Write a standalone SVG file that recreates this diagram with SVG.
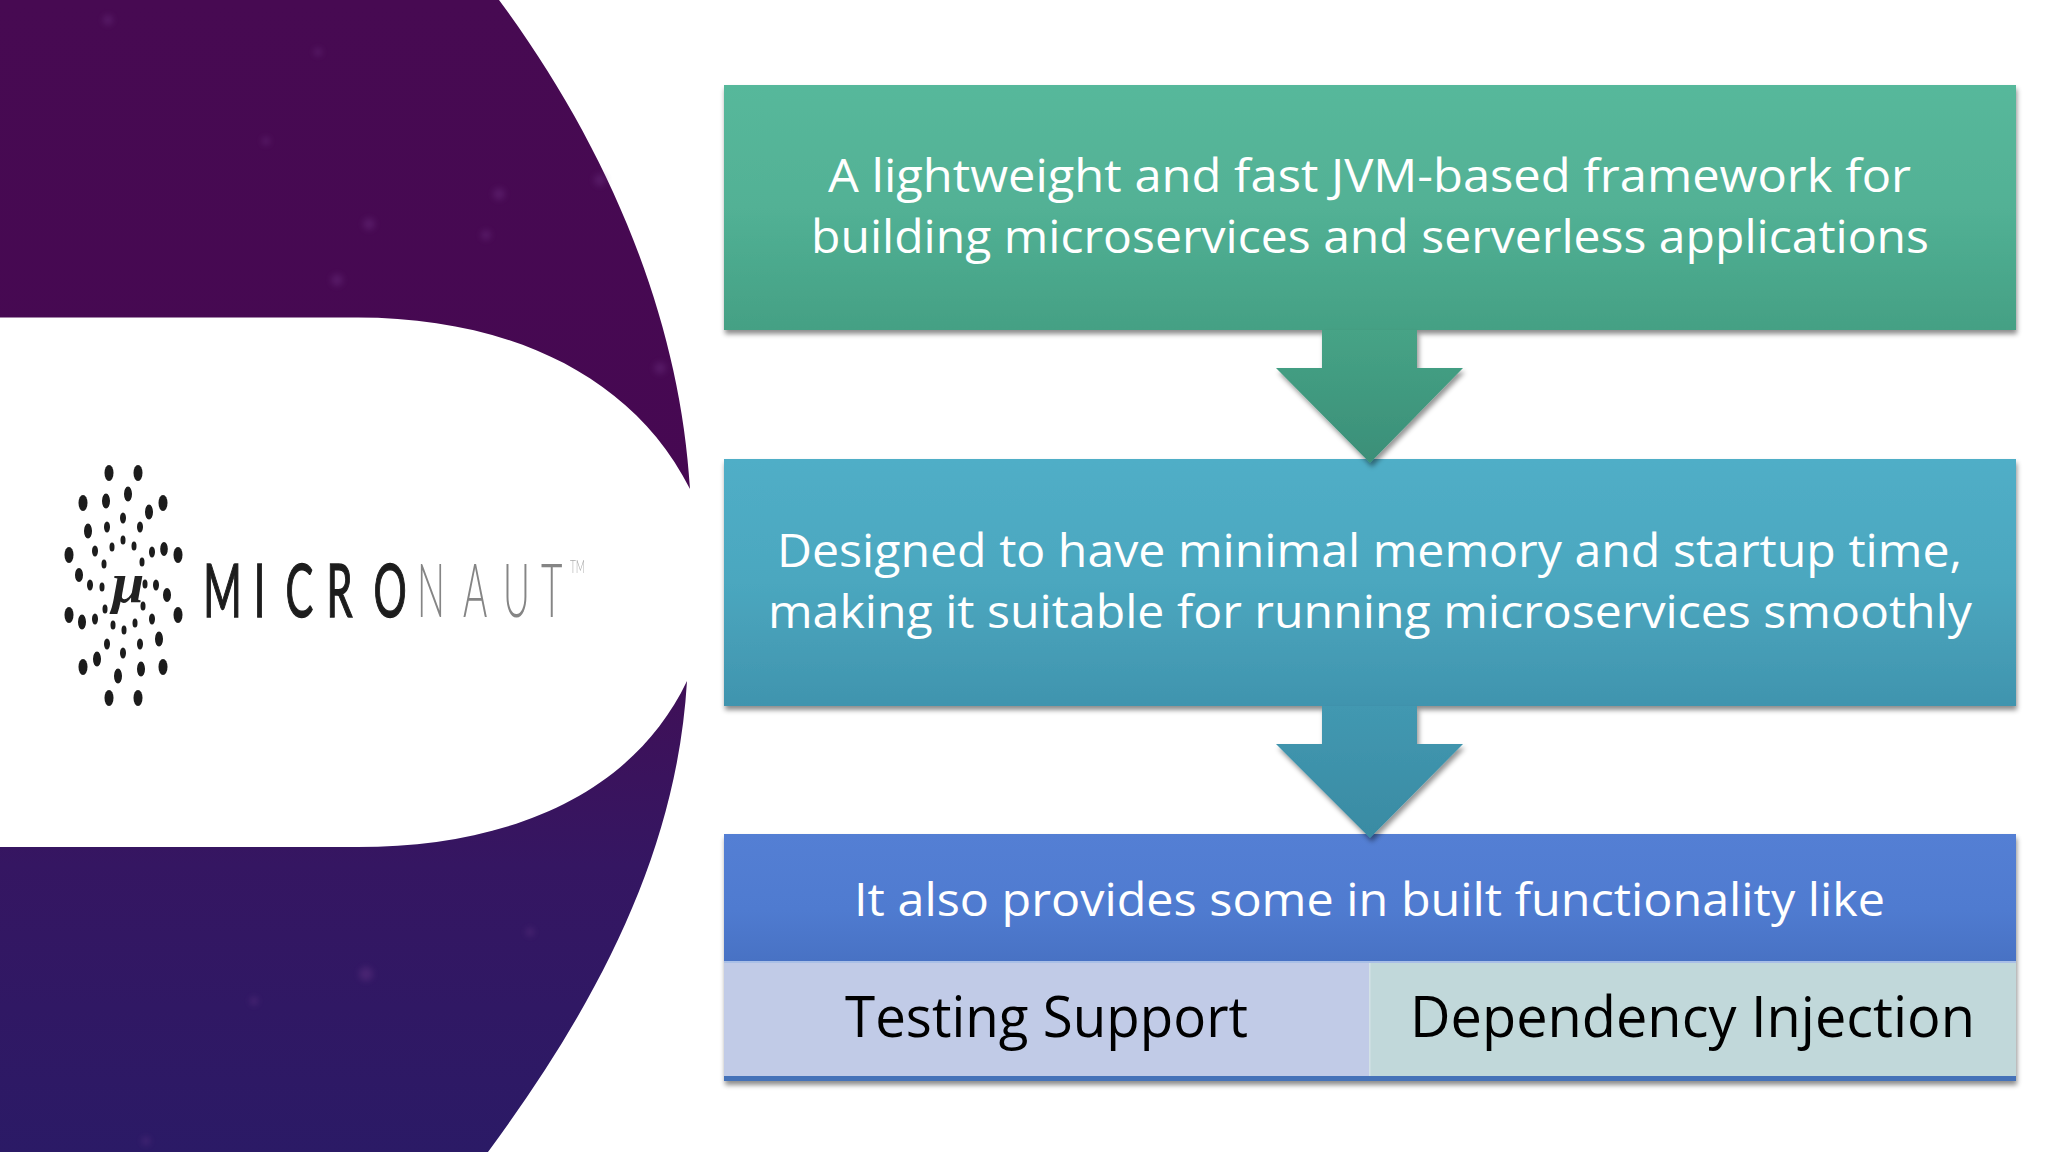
<svg xmlns="http://www.w3.org/2000/svg" width="2048" height="1152" viewBox="0 0 2048 1152">
<defs>
<linearGradient id="bg" gradientUnits="userSpaceOnUse" x1="0" y1="0" x2="0" y2="1152"><stop offset="0" stop-color="#470a52"/><stop offset=".45" stop-color="#460852"/><stop offset=".6" stop-color="#3f1058"/><stop offset=".75" stop-color="#351662"/><stop offset="1" stop-color="#2b1a66"/></linearGradient>
<linearGradient id="g1" x1="0" y1="0" x2="0" y2="1"><stop offset="0" stop-color="#57b89b"/><stop offset=".5" stop-color="#52b195"/><stop offset="1" stop-color="#44a084"/></linearGradient>
<linearGradient id="g2" x1="0" y1="0" x2="0" y2="1"><stop offset="0" stop-color="#50aec7"/><stop offset=".5" stop-color="#4ba7bf"/><stop offset="1" stop-color="#4094ae"/></linearGradient>
<linearGradient id="g3" x1="0" y1="0" x2="0" y2="1"><stop offset="0" stop-color="#547fd4"/><stop offset=".6" stop-color="#4f7bd0"/><stop offset="1" stop-color="#4872c4"/></linearGradient>
<linearGradient id="a1" x1="0" y1="0" x2="0" y2="1"><stop offset="0" stop-color="#46a386"/><stop offset="1" stop-color="#3b8f78"/></linearGradient>
<linearGradient id="a2" x1="0" y1="0" x2="0" y2="1"><stop offset="0" stop-color="#4298b1"/><stop offset="1" stop-color="#398ba3"/></linearGradient>
<filter id="sh" x="-5%" y="-10%" width="110%" height="125%"><feDropShadow dx="1" dy="4" stdDeviation="2.500" flood-color="#000" flood-opacity=".45"/></filter>
<filter id="ash" x="-15%" y="-10%" width="130%" height="125%"><feDropShadow dx="2" dy="4" stdDeviation="2.500" flood-color="#000" flood-opacity=".42"/></filter>
<filter id="soft" x="-5%" y="-5%" width="110%" height="110%"><feGaussianBlur stdDeviation=".55"/></filter>
<filter id="star" x="-200%" y="-200%" width="500%" height="500%"><feGaussianBlur stdDeviation="3"/></filter>
</defs>
<style>
.t{font-family:"Open Sans","Liberation Sans",sans-serif;fill:#fff;font-size:46px}
.d{font-family:"Open Sans","Liberation Sans",sans-serif;fill:#000;font-size:56px}
.l{fill:#1a1a1a}
.s{fill:#7a3f92;opacity:.32;filter:url(#star)}
.logo{font-family:Lato,"Liberation Sans",sans-serif;font-size:74px}
</style>
<rect width="2048" height="1152" fill="#fff"/>
<g id="background">
<path fill="url(#bg)" d="M0,0H499C610,150 680,320 690,489C630,370 500,317.500 358,317.500H0Z"/>
<path fill="url(#bg)" d="M0,847H358C500,847 630,800 687,681C677,850 600,1000 488,1152H0Z"/>
<g>
<circle class="s" cx="108" cy="20" r="5"/><circle class="s" cx="369" cy="224" r="6"/><circle class="s" cx="266" cy="141" r="4"/><circle class="s" cx="318" cy="52" r="4"/><circle class="s" cx="499" cy="194" r="6"/><circle class="s" cx="337" cy="280" r="6"/><circle class="s" cx="486" cy="235" r="5"/><circle class="s" cx="660" cy="368" r="6"/><circle class="s" cx="600" cy="180" r="6"/>
<circle class="s" cx="366" cy="974" r="7"/><circle class="s" cx="254" cy="1001" r="4"/><circle class="s" cx="146" cy="1141" r="4"/><circle class="s" cx="530" cy="932" r="4"/>
</g>
</g>
<g id="logo" filter="url(#soft)">
<g class="l">
<ellipse cx="109" cy="473" rx="4.500" ry="8"/><ellipse cx="138" cy="473" rx="4.500" ry="8"/><ellipse cx="83" cy="503" rx="4.500" ry="8"/><ellipse cx="106" cy="501" rx="4" ry="7.500"/><ellipse cx="128" cy="494" rx="4" ry="7.500"/><ellipse cx="149" cy="512" rx="4" ry="7.500"/><ellipse cx="163" cy="503" rx="4.500" ry="8"/><ellipse cx="88" cy="531" rx="4" ry="7.500"/><ellipse cx="107" cy="527" rx="3" ry="5.500"/><ellipse cx="123" cy="518" rx="3" ry="5.500"/><ellipse cx="140" cy="527" rx="3" ry="5.500"/>
<ellipse cx="69" cy="555" rx="4.500" ry="8"/><ellipse cx="95" cy="551" rx="3" ry="5.500"/><ellipse cx="112" cy="547" rx="2.500" ry="4.500"/><ellipse cx="123" cy="540" rx="2.500" ry="4.500"/><ellipse cx="134" cy="546" rx="2.500" ry="4.500"/><ellipse cx="152" cy="552" rx="3" ry="5.500"/><ellipse cx="164" cy="549" rx="3.800" ry="7"/><ellipse cx="178" cy="555" rx="4.500" ry="8"/><ellipse cx="104" cy="564" rx="2.500" ry="4.500"/><ellipse cx="142" cy="562" rx="2.500" ry="4.500"/><ellipse cx="79" cy="575" rx="4" ry="7"/><ellipse cx="90" cy="585" rx="3" ry="5.500"/><ellipse cx="102" cy="587" rx="2.500" ry="4.500"/><ellipse cx="145" cy="584" rx="2.500" ry="4.500"/><ellipse cx="156" cy="585" rx="3" ry="5.500"/><ellipse cx="167" cy="595" rx="4" ry="7"/>
<ellipse cx="69" cy="615" rx="4.500" ry="8"/><ellipse cx="82" cy="622" rx="4" ry="7.500"/><ellipse cx="95" cy="619" rx="3" ry="5.500"/><ellipse cx="105" cy="609" rx="2.500" ry="4.500"/><ellipse cx="143" cy="606" rx="2.500" ry="4.500"/><ellipse cx="152" cy="619" rx="3" ry="5.500"/><ellipse cx="178" cy="615" rx="4.500" ry="8"/><ellipse cx="113" cy="625" rx="2.500" ry="4.500"/><ellipse cx="124" cy="630" rx="2.500" ry="4.500"/><ellipse cx="135" cy="623" rx="2.500" ry="4.500"/>
<ellipse cx="107" cy="644" rx="3" ry="5.500"/><ellipse cx="123" cy="653" rx="3" ry="5.500"/><ellipse cx="140" cy="644" rx="3" ry="5.500"/><ellipse cx="159" cy="639" rx="4" ry="7.500"/><ellipse cx="97" cy="659" rx="4" ry="7.500"/><ellipse cx="83" cy="667" rx="4.500" ry="8"/><ellipse cx="118" cy="676" rx="4" ry="7.500"/><ellipse cx="141" cy="669" rx="4" ry="7.500"/><ellipse cx="163" cy="667" rx="4.500" ry="8"/><ellipse cx="109" cy="698" rx="4.500" ry="8"/><ellipse cx="138" cy="698" rx="4.500" ry="8"/>
</g>
<text x="112" y="602" font-family="'Liberation Serif',serif" font-style="italic" font-size="58" font-weight="700" fill="#222">μ</text>
<g class="logo">
<text transform="translate(0,617) scale(.56,1)" fill="#1e1e1e" stroke="#1e1e1e" stroke-width="1.500" x="363 453 510 583 667">MICRO</text>
<text transform="translate(0,617) scale(.5,1)" fill="#858585" font-weight="300" x="834 926 1006 1082">NAUT</text>
</g>
<text x="570" y="573" font-family="Lato,'Liberation Sans',sans-serif" font-size="17" font-weight="300" fill="#aaa" textLength="15" lengthAdjust="spacingAndGlyphs">TM</text>
</g>
<g id="node-1">
<rect x="724" y="85" width="1292" height="245" fill="url(#g1)" filter="url(#sh)"/>
<text class="t" x="828" y="192" textLength="1083" lengthAdjust="spacingAndGlyphs">A lightweight and fast JVM-based framework for</text>
<text class="t" x="811" y="253" textLength="1118" lengthAdjust="spacingAndGlyphs">building microservices and serverless applications</text>
</g>
<g id="node-2">
<rect x="724" y="459" width="1292" height="247" fill="url(#g2)" filter="url(#sh)"/>
<text class="t" x="777" y="567" textLength="1185" lengthAdjust="spacingAndGlyphs">Designed to have minimal memory and startup time,</text>
<text class="t" x="768" y="628" textLength="1204" lengthAdjust="spacingAndGlyphs">making it suitable for running microservices smoothly</text>
</g>
<g id="node-3">
<rect x="724" y="834" width="1292" height="247" fill="#4472b8" filter="url(#sh)"/>
<rect x="724" y="834" width="1292" height="127" fill="url(#g3)"/>
<rect x="724" y="961" width="1292" height="2" fill="#a9bfe6"/>
<text class="t" x="854" y="916" textLength="1031" lengthAdjust="spacingAndGlyphs">It also provides some in built functionality like</text>
</g>
<g id="node-testing">
<rect x="724" y="963" width="645" height="113" fill="#c1cbe7"/>
<text class="d" x="845" y="1037" textLength="403" lengthAdjust="spacingAndGlyphs">Testing Support</text>
</g>
<g id="node-di">
<rect x="1369" y="963" width="647" height="113" fill="#c1d8da"/>
<rect x="1369" y="963" width="1.500" height="113" fill="#d3e2e6"/>
<text class="d" x="1410" y="1037" textLength="565" lengthAdjust="spacingAndGlyphs">Dependency Injection</text>
</g>
<g id="connectors">
<path fill="url(#a1)" filter="url(#ash)" d="M1322,330H1417V368H1463L1370,463L1276,368H1322Z"/>
<path fill="url(#a2)" filter="url(#ash)" d="M1322,706H1417V744H1463L1370,838L1276,744H1322Z"/>
</g>
</svg>
